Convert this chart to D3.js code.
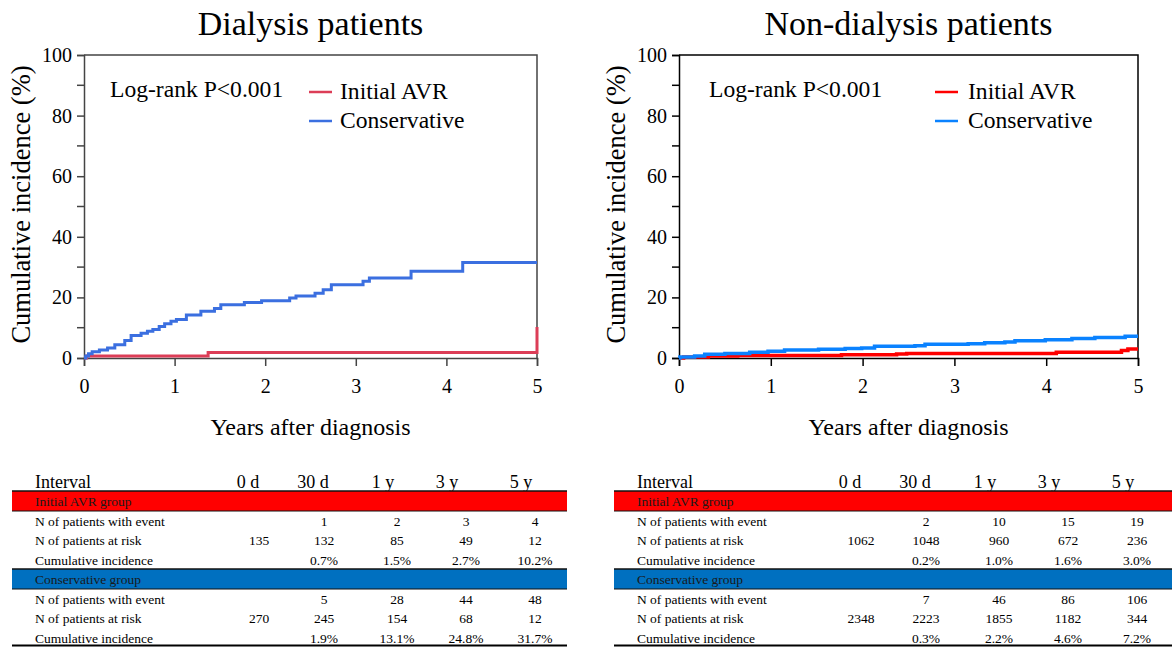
<!DOCTYPE html>
<html>
<head>
<meta charset="utf-8">
<script src="https://cdn.jsdelivr.net/npm/d3@7"></script>
<style>
  html, body { margin: 0; padding: 0; background: #fff; }
  svg { display: block; }
  text { font-family: "Liberation Serif", "Times New Roman", serif; fill: #000; }
</style>
</head>
<body>
<svg id="chart" width="1172" height="647"></svg>
<script>
// ---------- data ----------
const xTicks = [0, 1, 2, 3, 4, 5];
const yTicks = [0, 20, 40, 60, 80, 100];
const yMinorTicks = [10, 30, 50, 70, 90];
const seriesNames = ["Initial AVR", "Conservative"];
const panelTitles = ["Dialysis patients", "Non-dialysis patients"];
const pLabel = "Log-rank P<0.001";

// [years, cumulative incidence %]
const dialysisAVR = [[0,0],[0.03,0.7],[1.37,1.8],[5,10.2]];
const dialysisCons = [[0,0],[0.02,0.7],[0.05,1.4],[0.09,2.1],[0.17,2.6],[0.26,3.3],[0.34,4.4],[0.45,5.8],[0.52,7.4],[0.63,8.2],[0.70,8.8],[0.76,9.4],[0.83,10.4],[0.89,11.3],[0.96,12.1],[1.02,12.7],[1.13,14.2],[1.29,15.4],[1.44,16.3],[1.51,17.6],[1.77,18.3],[1.96,18.9],[2.27,19.8],[2.34,20.5],[2.55,21.4],[2.64,22.5],[2.73,24.2],[3.08,25.3],[3.15,26.4],[3.61,28.6],[4.18,31.5],[5,31.5]];
const nonDialysisAVR = [[0,0],[0.05,0.3],[0.32,0.66],[0.64,0.85],[1.77,1.1],[2.37,1.35],[2.48,1.5],[4.11,1.9],[4.82,2.5],[4.89,3.0],[5,3.0]];
const nonDialysisCons = [[0,0],[0.01,0.3],[0.17,0.7],[0.28,1.2],[0.5,1.5],[0.77,1.9],[0.97,2.2],[1.15,2.6],[1.52,2.85],[1.81,3.1],[1.99,3.3],[2.13,3.85],[2.57,4.07],[2.68,4.5],[3.15,4.7],[3.33,5.05],[3.55,5.3],[3.66,5.7],[3.99,6.05],[4.28,6.4],[4.53,6.8],[4.86,7.2],[5,7.2]];

// table
const intervalLabels = ["0 d", "30 d", "1 y", "3 y", "5 y"];
const groupLabels = ["Initial AVR group", "Conservative group"];
const rowLabels = ["N of patients with event", "N of patients at risk", "Cumulative incidence"];
const dialysisAVRTable = [["", "1", "2", "3", "4"], ["135", "132", "85", "49", "12"], ["", "0.7%", "1.5%", "2.7%", "10.2%"]];
const dialysisConsTable = [["", "5", "28", "44", "48"], ["270", "245", "154", "68", "12"], ["", "1.9%", "13.1%", "24.8%", "31.7%"]];
const nonDialysisAVRTable = [["", "2", "10", "15", "19"], ["1062", "1048", "960", "672", "236"], ["", "0.2%", "1.0%", "1.6%", "3.0%"]];
const nonDialysisConsTable = [["", "7", "46", "86", "106"], ["2348", "2223", "1855", "1182", "344"], ["", "0.3%", "2.2%", "4.6%", "7.2%"]];

// ---------- layout ----------
const svg = d3.select("#chart");
svg.append("rect").attr("width", 1172).attr("height", 647).attr("fill", "#fff");

const panels = [
  { title: panelTitles[0], x0: 84, x1: 537, avr: dialysisAVR, cons: dialysisCons,
    red: "#dc3d57", blue: "#3b6fe0", frame: "#444", lw: 3,
    pX: 110, legLineX: 309, legTextX: 340, tblX: 0, avrT: dialysisAVRTable, consT: dialysisConsTable },
  { title: panelTitles[1], x0: 679, x1: 1138, avr: nonDialysisAVR, cons: nonDialysisCons,
    red: "#ff0000", blue: "#0a82ff", frame: "#000", lw: 3.5,
    pX: 709, legLineX: 935, legTextX: 968, tblX: 602, avrT: nonDialysisAVRTable, consT: nonDialysisConsTable }
];

const yTop = 55, yBot = 358;

panels.forEach(p => {
  const g = svg.append("g");
  const x = d3.scaleLinear().domain([0, 5]).range([p.x0, p.x1]);
  const y = d3.scaleLinear().domain([0, 100]).range([yBot, yTop]);

  // title
  g.append("text").attr("x", (p.x0 + p.x1) / 2).attr("y", 35)
    .attr("text-anchor", "middle").style("font-size", "34px").text(p.title);

  // frame (top & right)
  g.append("path")
    .attr("d", `M${p.x0},${yTop}H${p.x1}V${yBot}`)
    .attr("fill", "none").attr("stroke", p.frame).attr("stroke-width", 1.5);

  // y axis
  const yAxis = d3.axisLeft(y).tickValues(yTicks).tickSize(7).tickPadding(5);
  const ya = g.append("g").attr("transform", `translate(${p.x0},0)`).call(yAxis);
  ya.selectAll("text").style("font-size", "20px").style("font-family", '"Liberation Serif", serif');
  ya.append("g").selectAll("line").data(yMinorTicks).join("line")
    .attr("x1", 0).attr("x2", -7).attr("y1", d => y(d)).attr("y2", d => y(d))
    .attr("stroke", p.frame);
  ya.selectAll("path, line").attr("stroke", p.frame).attr("stroke-width", 1.5);

  // x axis
  const xAxis = d3.axisBottom(x).tickValues(xTicks).tickSize(8).tickPadding(13).tickFormat(d3.format("d"));
  const xa = g.append("g").attr("transform", `translate(0,${yBot})`).call(xAxis);
  xa.selectAll("text").style("font-size", "20px").style("font-family", '"Liberation Serif", serif');
  xa.selectAll("path, line").attr("stroke", p.frame).attr("stroke-width", 1.5);

  // axis titles
  g.append("text").attr("transform", `translate(${p.x0 - 54},${(yTop + yBot) / 2 - 2}) rotate(-90)`)
    .attr("text-anchor", "middle").style("font-size", "26.5px").text("Cumulative incidence (%)");
  g.append("text").attr("x", (p.x0 + p.x1) / 2).attr("y", 435)
    .attr("text-anchor", "middle").style("font-size", "24px").text("Years after diagnosis");

  // curves
  const line = d3.line().x(d => x(d[0])).y(d => y(d[1])).curve(d3.curveStepAfter);
  g.append("path").datum(p.avr).attr("d", line).attr("fill", "none")
    .attr("stroke", p.red).attr("stroke-width", p.lw);
  g.append("path").datum(p.cons).attr("d", line).attr("fill", "none")
    .attr("stroke", p.blue).attr("stroke-width", p.lw);

  // legend
  g.append("text").attr("x", p.pX).attr("y", 97).style("font-size", "23.6px").text(pLabel);
  const leg = [{ n: seriesNames[0], c: p.red, y: 92 }, { n: seriesNames[1], c: p.blue, y: 121 }];
  leg.forEach(l => {
    g.append("line").attr("x1", p.legLineX).attr("x2", p.legLineX + 23)
      .attr("y1", l.y).attr("y2", l.y).attr("stroke", l.c).attr("stroke-width", 2.5);
    g.append("text").attr("x", p.legTextX).attr("y", l.y + 7).style("font-size", "23.6px").text(l.n);
  });

  // ---------- table ----------
  const t = svg.append("g").attr("transform", `translate(${p.tblX},0)`);
  const headX = d3.scaleOrdinal().domain(intervalLabels).range([248, 313, 383, 447, 521]);
  const valX = d3.scaleOrdinal().domain(intervalLabels).range([259, 324, 397, 466, 535]);
  const barL = 12, barR = p.tblX ? 570 : 567;

  t.append("text").attr("x", 35).attr("y", 488).style("font-size", "18px").text("Interval");
  t.selectAll("text.hd").data(intervalLabels).join("text").attr("class", "hd")
    .attr("x", d => headX(d)).attr("y", 488).attr("text-anchor", "middle")
    .style("font-size", "18px").text(d => d);

  const groups = [
    { label: groupLabels[0], color: "#ff0000", top: 491, rows: p.avrT },
    { label: groupLabels[1], color: "#0070c0", top: 569, rows: p.consT }
  ];
  groups.forEach(gr => {
    t.append("rect").attr("x", barL).attr("y", gr.top).attr("width", barR - barL).attr("height", 20)
      .attr("fill", gr.color);
    t.append("line").attr("x1", barL).attr("x2", barR).attr("y1", gr.top).attr("y2", gr.top)
      .attr("stroke", "#111").attr("stroke-width", 1.5);
    t.append("line").attr("x1", barL).attr("x2", barR).attr("y1", gr.top + 20).attr("y2", gr.top + 20)
      .attr("stroke", "#111").attr("stroke-width", 1);
    t.append("text").attr("x", 35).attr("y", gr.top + 15).style("font-size", "13.5px")
      .style("fill", "#1a1a1a").text(gr.label);
    rowLabels.forEach((rl, i) => {
      const yy = gr.top + 35 + i * 19.3;
      t.append("text").attr("x", 35).attr("y", yy).style("font-size", "13.5px").text(rl);
      t.selectAll(null).data(gr.rows[i].map((v, j) => ({ v, k: intervalLabels[j] }))).join("text")
        .attr("x", d => valX(d.k)).attr("y", yy).attr("text-anchor", "middle")
        .style("font-size", "13.5px").text(d => d.v);
    });
  });
  t.append("line").attr("x1", barL).attr("x2", barR).attr("y1", 645.5).attr("y2", 645.5)
    .attr("stroke", "#000").attr("stroke-width", 2);
});
</script>
</body>
</html>
